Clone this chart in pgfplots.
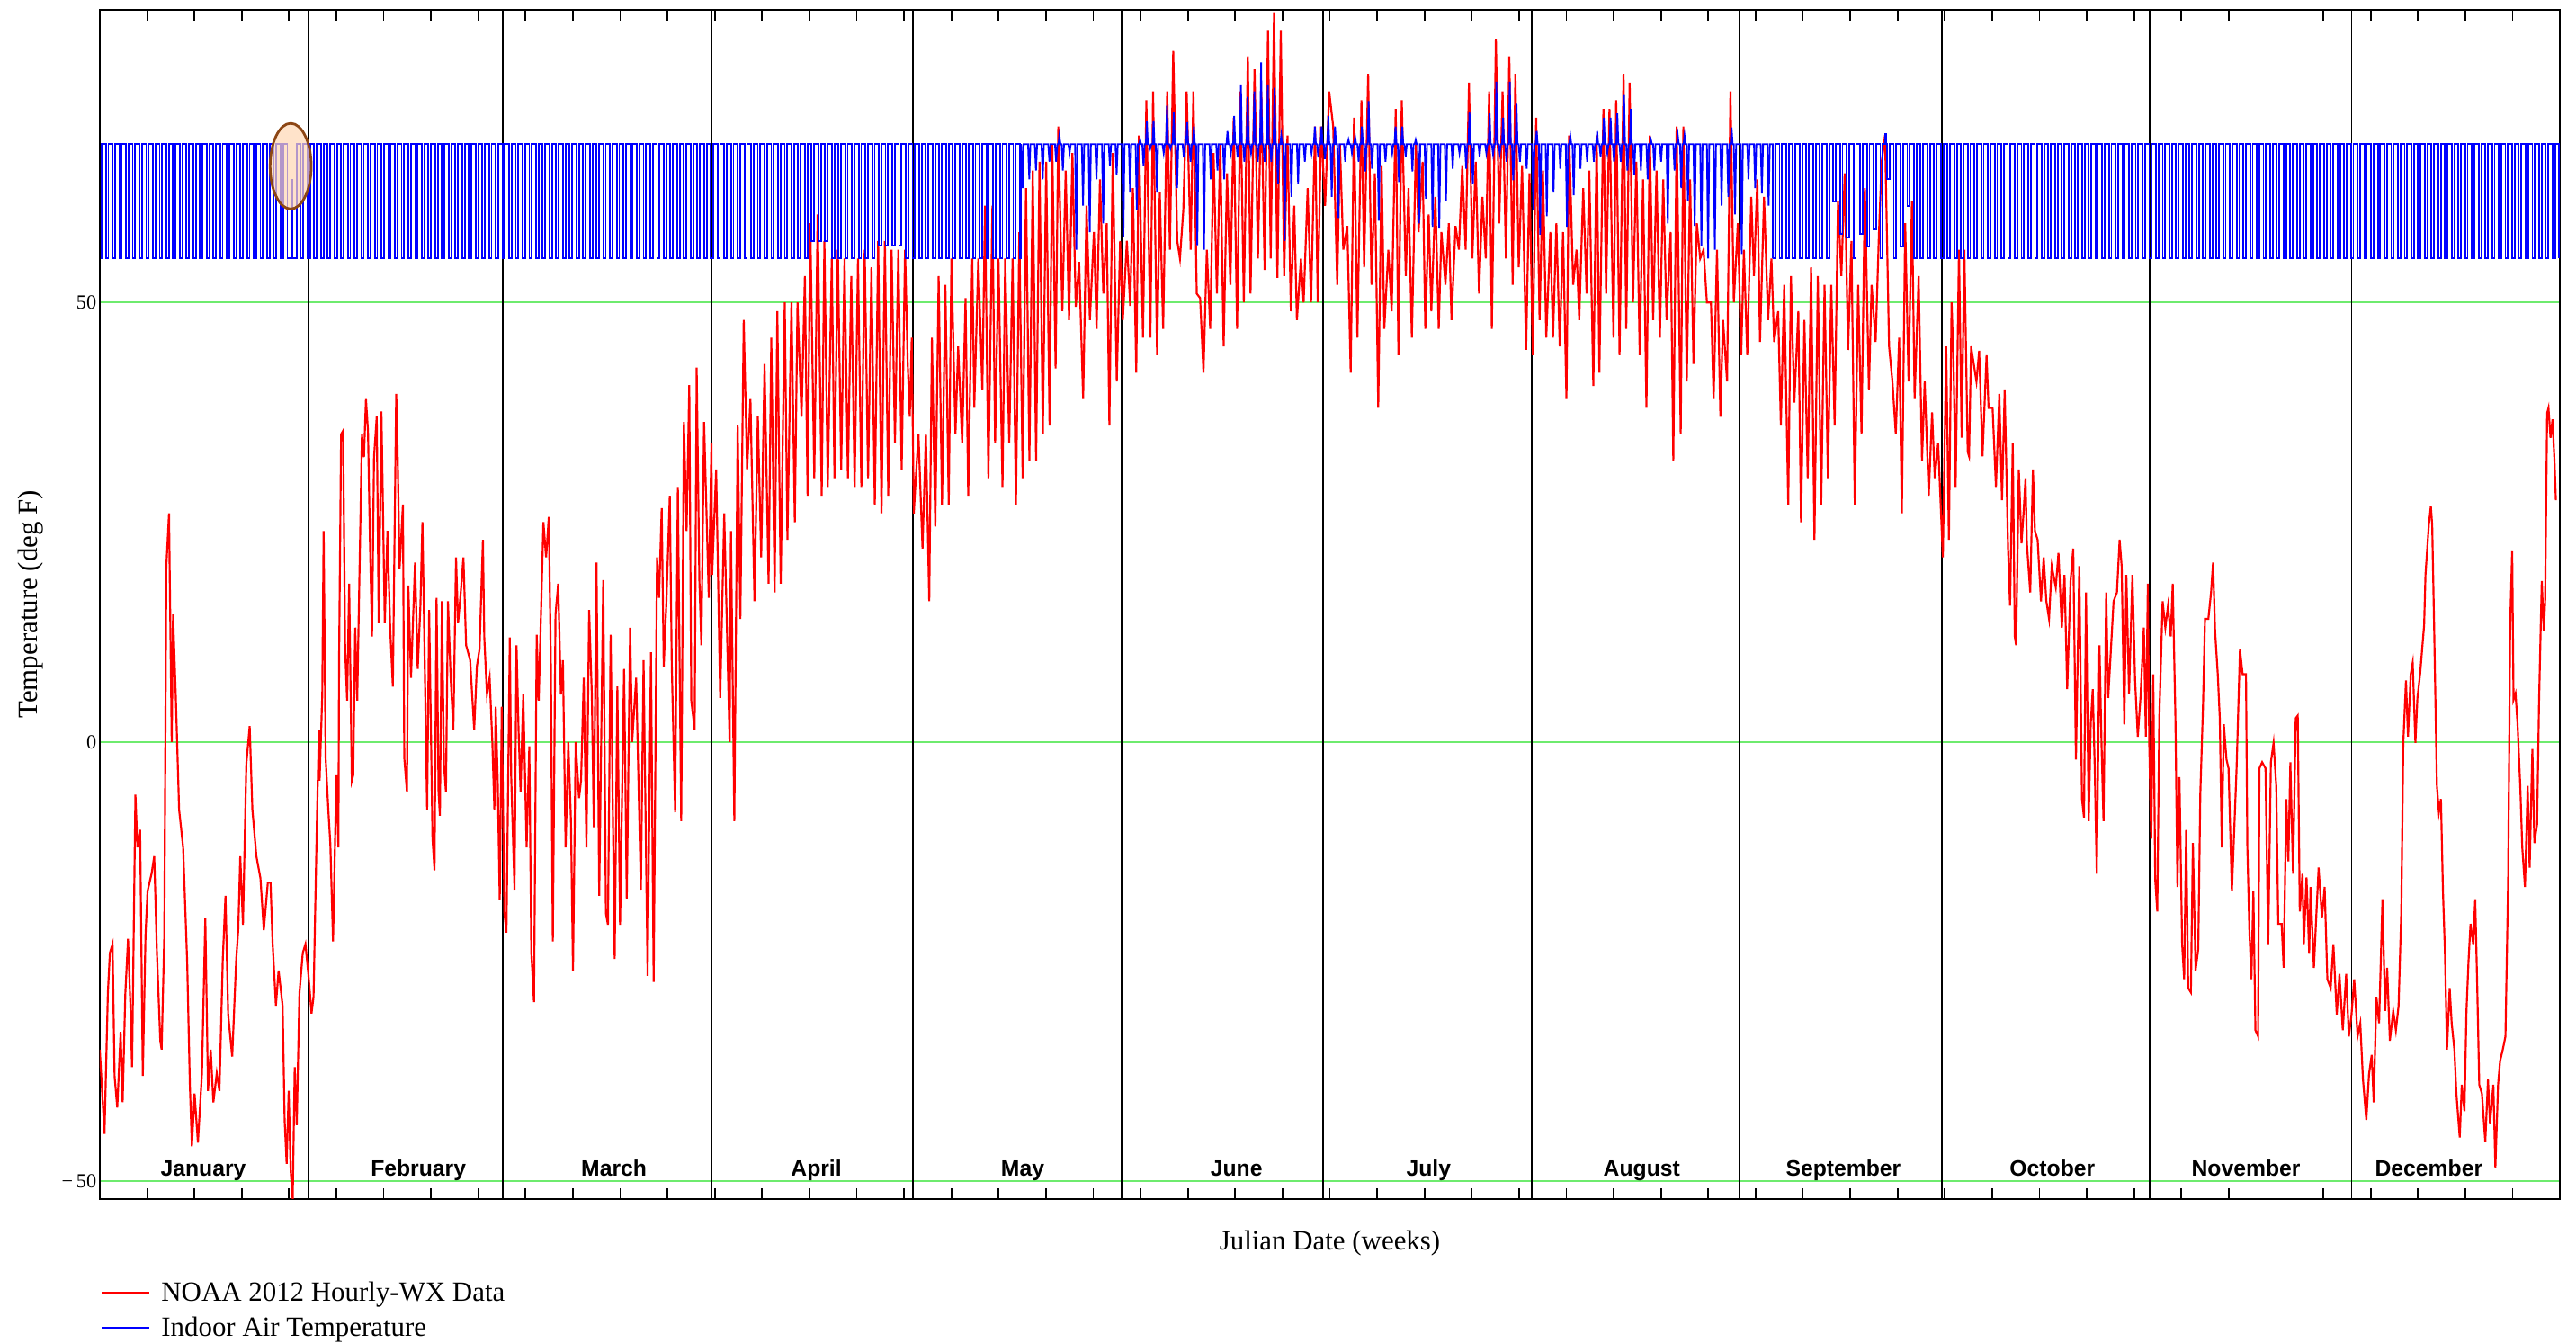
\documentclass[border=0pt]{standalone}
\usepackage{fontspec}
\setmainfont{Liberation Serif}
\newfontfamily\monthfont{Liberation Sans}
\usepackage{pgfplots}
\pgfplotsset{compat=1.18}
\definecolor{gridgreen}{RGB}{110,235,110}
\definecolor{peach}{RGB}{255,215,180}
\definecolor{ellbrown}{RGB}{140,70,20}
\begin{document}
\begin{tikzpicture}
\begin{axis}[
  scale only axis,
  width=885pt, height=427.8pt,
  xmin=0, xmax=366, ymin=-52, ymax=83.3,
  axis line style={line width=0.6pt},
  xtick={7.0385,14.0769,...,359},
  xticklabels={},
  tick align=inside,
  major tick length=4pt,
  xtick style={black,line width=0.6pt},
  ytick={-50,0,50},
  yticklabels={{−\,50},{0},{50}},
  ytick style={draw=none},
  yticklabel style={font=\fontsize{7.2}{8}\selectfont, inner sep=1pt},
  /pgf/number format/assume math mode=true,
  ymajorgrids,
  major grid style={gridgreen, line width=0.6pt},
  extra x ticks={31,60,91,121,152,182,213,244,274,305,335},
  extra x tick labels={},
  extra x tick style={xmajorgrids=true, major grid style={black,line width=0.6pt}, major tick length=0pt},
  xlabel={Julian Date (weeks)},
  ylabel={Temperature (deg F)},
  xlabel style={at={(axis description cs:0.5,-0.0372)}, anchor=center},
  ylabel style={at={(axis description cs:-0.0281,0.5)}, anchor=center},
  legend style={at={(axis description cs:0.0002,-0.0673)}, anchor=north west, draw=none, fill=none, inner sep=0pt, row sep=3pt, nodes={inner sep=0.8pt, text height=7pt, text depth=1pt}, /tikz/every odd column/.append style={column sep=3.2pt}},
  legend cell align=left,
]
\addplot[red, line width=0.7pt] coordinates {
(0,-35) (0.7,-44.6) (1.2,-28.6) (1.5,-24) (1.9,-23) (2.2,-38) (2.6,-41.6) (3.1,-33) (3.4,-41) (3.8,-28.6) (4.2,-22.4) (4.6,-31) (4.8,-37) (5.3,-6) (5.6,-12) (6.0,-10) (6.4,-38) (6.8,-22) (7.1,-17) (7.7,-15) (8.1,-13) (8.5,-24) (9.0,-34) (9.2,-35) (9.6,-22) (9.9,20) (10.3,26) (10.7,0) (10.9,14.5) (11.3,5.4) (11.8,-7.7) (12.4,-12) (13.0,-25) (13.4,-39) (13.7,-46) (14.1,-40) (14.6,-45.6) (15.2,-37.7) (15.7,-20) (16.1,-39.7) (16.5,-35) (16.9,-41) (17.4,-37.7) (17.8,-39.7) (18.3,-24.7) (18.7,-17.5) (19.1,-31) (19.7,-35.8) (20.3,-24.7) (20.6,-21.4) (20.9,-13) (21.3,-20.8) (21.8,-2.5) (22.3,1.8) (22.7,-7.7) (23.3,-13) (23.9,-15.5) (24.4,-21.4) (25.0,-16) (25.4,-16) (25.7,-22.7) (26.2,-30) (26.6,-26) (27.2,-30) (27.5,-43) (27.8,-48) (28.1,-39.7) (28.4,-48.8) (28.7,-52) (29.0,-37) (29.3,-43.6) (29.7,-28.6) (30.2,-24) (30.6,-23) (31.1,-27) (31.5,-30.9) (31.8,-29) (32.3,-9) (32.6,1.4) (32.7,-4.4) (33.1,5.4) (33.3,24) (33.6,-1.8) (34.0,-7.7) (34.3,-11.6) (34.7,-22.7) (35.2,-3.8) (35.5,-12) (35.6,9.3) (35.9,35) (36.2,35.4) (36.5,10.6) (36.8,4.7) (37.1,18) (37.5,-4.4) (37.7,-3.8) (38.0,13) (38.3,4.7) (38.7,22) (39.0,35) (39.3,32.4) (39.6,39) (39.9,35.4) (40.2,22.6) (40.5,12) (40.8,32.4) (41.2,37) (41.5,13.5) (41.9,37.6) (42.4,13.5) (42.8,24) (43.2,13) (43.6,6.3) (44.1,39.6) (44.3,33.4) (44.6,19.7) (45.1,27) (45.3,-1.8) (45.7,-5.7) (45.9,17.8) (46.3,7.3) (46.9,20.4) (47.3,8.3) (47.7,15.5) (48.0,25) (48.4,6.3) (48.7,-7.7) (49.0,15) (49.5,-11) (49.8,-14.6) (50.1,16.4) (50.4,-5.7) (50.6,-8.4) (50.9,16) (51.2,-2.5) (51.5,-5.7) (51.8,16) (52.2,7.3) (52.6,1.4) (53.0,21) (53.3,13.5) (53.7,17) (54.1,21) (54.5,11) (55.1,9.3) (55.7,1.4) (56.1,8.6) (56.5,10.6) (57.0,23) (57.2,11.9) (57.6,5.4) (58.0,7.3) (58.4,0) (58.7,-7.7) (58.9,4) (59.2,-4.4) (59.5,-18) (59.8,4) (60.2,-19.5) (60.5,-21.7) (61.0,11.9) (61.2,-3.8) (61.7,-16.8) (62.0,11) (62.3,1.4) (62.6,-5.7) (63.0,5.4) (63.5,-12) (63.9,-0.5) (64.2,-24) (64.6,-29.6) (65.0,12.2) (65.3,4.7) (65.5,10.6) (66.0,25) (66.4,21) (66.8,25.6) (67.1,9.3) (67.4,-22.7) (67.8,14.5) (68.2,18) (68.6,5.4) (68.9,9.3) (69.3,-12) (69.7,0) (70.1,-9) (70.4,-26) (70.8,0) (71.3,-6.4) (71.6,-4.4) (72.0,7.3) (72.4,-12) (72.8,15) (73.2,5.4) (73.5,-9.7) (73.9,20.4) (74.3,-17.5) (74.9,18.4) (75.3,-19.5) (75.6,-20.8) (76.0,12.2) (76.6,-24.7) (77.0,6.3) (77.4,-20.8) (78.0,8.3) (78.4,-17.8) (78.9,13) (79.2,0) (79.8,7.3) (80.5,-16.8) (80.9,9.3) (81.5,-26.6) (82.0,10.2) (82.4,-27.3) (82.9,21) (83.2,16.4) (83.6,26.6) (83.9,8.6) (84.3,16) (84.8,28) (85.1,8.6) (85.6,-8) (86.0,29) (86.5,-9) (86.9,36.4) (87.3,24) (87.7,40.6) (88.0,4.7) (88.5,1.4) (88.8,42.6) (89.2,18.4) (89.5,11) (89.9,36.4) (90.3,25) (90.6,16.4) (91.0,34)
(91.1,19) (91.7,31) (92.3,5) (92.9,26) (93.7,0) (93.9,24) (94.4,-9) (94.9,36) (95.3,14) (95.8,48) (96.3,31) (96.8,39) (97.4,16) (97.9,37) (98.4,21) (98.9,43) (99.5,18) (99.9,46) (100.4,17) (100.8,49) (101.3,18) (101.9,50) (102.3,23) (102.9,50) (103.4,25) (103.8,50) (104.4,37) (104.9,53) (105.3,28) (105.7,59) (106.3,30) (106.8,60) (107.4,28) (107.8,57) (108.3,29) (108.9,55) (109.3,30) (109.8,56) (110.3,31) (110.8,55) (111.3,30) (111.8,53) (112.3,29) (112.8,55) (113.3,29) (113.8,56) (114.3,30) (114.8,54) (115.3,27) (115.8,57) (116.3,26) (116.8,57) (117.3,28) (117.8,56) (118.3,34) (118.8,56) (119.3,31) (119.8,56) (120.2,43) (120.5,37) (120.8,46) (121.1,26) (121.4,30) (121.8,35) (122.4,22) (122.9,35) (123.4,16) (123.8,46) (124.3,24.5) (124.8,53) (125.3,27) (125.8,52) (126.3,27) (126.7,55) (127.3,35) (127.7,45) (128.3,34) (128.8,50.5) (129.2,28) (129.8,55) (130.1,38) (130.7,55) (131.3,40) (131.7,61) (132.2,30) (132.8,61) (133.2,34) (133.7,55) (134.3,29) (134.7,55) (135.3,34) (135.8,55) (136.3,27) (136.8,58) (137.3,30) (137.8,63) (138.3,32) (138.8,65) (139.3,32) (139.8,66) (140.3,35) (140.8,66) (141.3,36) (141.7,68) (142.2,42.5) (142.6,70) (143.2,49) (143.7,65) (144.2,48) (144.7,67) (145.2,49.5) (145.7,54.6) (146.3,39) (146.8,61) (147.3,48) (147.9,58) (148.3,47) (148.8,64) (149.3,51) (149.8,59) (150.2,36) (150.7,67) (151.3,41) (151.8,57) (152.2,48) (152.8,57) (153.3,49.6) (153.7,63) (154.2,42) (154.6,69) (155.2,46) (155.7,73) (156.3,46) (156.7,74) (157.3,44) (157.7,62.6) (158.2,47) (158.8,74) (159.2,56) (159.7,78.6) (160.3,57) (160.7,55) (161.2,60.5) (161.7,74) (162.3,56) (162.7,74) (163.2,51) (163.7,50.5) (164.2,42) (164.7,56) (165.2,47) (165.7,67) (166.2,51) (166.7,68) (167.2,45) (167.7,64.7) (168.2,52) (168.7,71) (169.2,47) (169.7,74) (170.2,50) (170.8,78) (171.2,51) (171.8,76.5) (172.3,55) (172.8,74) (173.3,53.7) (173.8,81) (174.2,55) (174.7,83) (175.2,52.8) (175.7,81) (176.2,53) (176.7,69) (177.2,49) (177.7,61) (178.1,48) (178.7,55) (179.1,50) (179.7,63) (180.2,50) (180.8,70) (181.2,50) (181.7,70) (182.3,61) (182.9,74)
(183.5,70) (184.1,52) (184.5,68) (185.0,56) (185.6,58.7) (186.1,42) (186.6,71) (187.1,46) (187.7,73) (188.1,54) (188.7,76) (189.2,52) (189.7,64.7) (190.2,38) (190.7,65.6) (191.1,47) (191.7,56) (192.2,49) (192.8,72) (193.2,44) (193.7,73) (194.3,53) (194.7,63) (195.2,46) (195.8,68) (196.2,58) (196.8,66) (197.2,47) (197.7,60) (198.1,49) (198.7,62) (199.2,47) (199.6,58) (200.2,52) (200.7,59) (201.1,48) (201.7,58.7) (202.2,56) (202.7,65.6) (203.2,56) (203.7,75) (204.2,55) (204.7,66) (205.2,51) (205.7,62) (206.2,55) (206.7,74) (207.1,47) (207.7,80) (208.2,59) (208.7,74) (209.2,55) (209.7,78) (210.2,52) (210.6,76) (211.1,54) (211.6,65.6) (212.2,44.6) (212.7,64.7) (213.2,44) (213.7,71) (214.2,48) (214.7,65) (215.2,46) (215.8,58) (216.2,46) (216.7,59) (217.2,45) (217.7,58) (218.2,39) (218.6,69) (219.2,52) (219.7,56) (220.1,48) (220.7,63) (221.2,51) (221.6,65) (222.2,40.5) (222.7,69) (223.1,42) (223.7,72) (224.1,51) (224.6,72) (225.2,46) (225.6,73) (226.1,44) (226.7,76) (227.1,47) (227.6,75) (228.1,50) (228.6,66) (229.1,44) (229.6,64) (230.1,38) (230.6,69) (231.1,48) (231.6,65) (232.1,46) (232.6,64) (233.1,48) (233.7,58) (234.1,32) (234.6,70) (235.2,35) (235.6,70) (236.1,41) (236.6,64) (237.1,43) (237.6,59) (238.1,55) (238.6,56) (239.1,50) (239.7,50) (240.1,39) (240.6,56) (241.1,37) (241.5,48) (242.1,41) (242.6,74) (243.1,50) (243.7,59) (244.2,44) (244.6,56) (245.1,44) (245.7,62) (246.1,53) (246.6,64) (247.0,45.5) (247.6,62) (248.2,48) (248.7,55) (249.1,45.5) (249.7,49) (250.1,36) (250.6,52) (251.2,27) (251.6,53) (252.1,38.6) (252.7,49) (253.1,25) (253.6,48) (254.1,30) (254.6,54) (255.1,23) (255.6,53) (256.1,27) (256.6,52) (257.1,30) (257.6,52) (258.1,36) (258.6,61.5) (259.1,53) (259.6,64.7) (260.1,44.6) (260.6,57) (261.1,27) (261.6,52) (262.1,35) (262.6,63) (263.2,40) (263.6,52) (264.2,45.5) (264.7,58) (265.1,66) (265.6,69) (266.2,45) (266.7,41) (267.2,35) (267.7,46) (268.1,26) (268.6,59) (269.1,41) (269.6,61.5) (270.0,39) (270.6,53) (271.1,32) (271.5,41) (272.1,28) (272.6,37.5) (273.0,30) (273.5,34)
(274.2,21) (274.7,45) (275.1,23) (275.5,50) (275.8,43) (276.1,29) (276.6,56) (277.0,34.6) (277.4,56) (277.9,33) (278.1,32.5) (278.4,45) (278.8,43) (279.2,41) (279.6,44.5) (280.1,32.5) (280.7,44) (281.0,38) (281.6,38) (282.1,29) (282.6,39.6) (283.0,27.5) (283.4,40) (283.9,22) (284.2,15.5) (284.6,34) (284.9,12) (285.1,11) (285.5,31) (285.9,22.6) (286.2,26) (286.5,30) (286.7,22.6) (287.2,17) (287.6,31) (287.9,24) (288.3,23) (288.8,16) (289.2,21) (289.6,16) (290.0,14) (290.4,20) (291.0,17.6) (291.4,21.5) (291.9,13) (292.3,19) (292.7,6) (293.2,18.3) (293.6,22) (294.0,-2) (294.5,20) (294.9,-6.5) (295.2,-8.6) (295.5,17) (295.9,-9) (296.2,2) (296.5,6) (296.8,-3) (297.1,-15) (297.5,11) (297.8,0) (298.1,-9) (298.5,17) (298.8,5) (299.2,10.5) (299.6,16) (300.1,17) (300.5,23) (300.8,20) (301.2,2) (301.5,19) (301.9,5.5) (302.4,19) (302.8,7) (303.2,0.6) (303.6,5) (304.1,13) (304.4,0.6) (304.7,18) (304.9,-0.1) (305.2,-11) (305.5,7.7) (305.8,-15.7) (306.1,-19.3) (306.4,2.7) (306.9,16) (307.3,13) (307.7,15.5) (308.1,12) (308.4,18) (308.8,2.7) (309.1,-16.5) (309.4,-4) (309.8,-23) (310.1,-27) (310.4,-10) (310.7,-28) (311.1,-28.5) (311.4,-11.5) (311.8,-26) (312.2,-23.5) (312.5,-6) (312.9,4) (313.2,14) (313.7,14) (314.1,17) (314.4,20.4) (314.7,12.6) (315.1,7.7) (315.4,2.7) (315.7,-12) (316.0,2) (316.4,-2) (316.7,-3) (317.2,-17) (317.6,-9) (317.9,-3) (318.4,10.5) (318.8,7.7) (319.3,7.7) (319.5,-12) (319.8,-21.4) (320.1,-27) (320.4,-17) (320.7,-32.8) (321.1,-33.5) (321.3,-3) (321.7,-2.3) (322.2,-3) (322.6,-23) (323.0,-2.3) (323.4,-0.1) (323.8,-5) (324.1,-20.7) (324.6,-20.7) (324.9,-25.7) (325.3,-6.5) (325.6,-13.6) (325.9,-2.3) (326.3,-15) (326.7,2.7) (327.0,3) (327.3,-19.3) (327.7,-15) (327.9,-23) (328.3,-15.4) (328.7,-24) (328.9,-16.5) (329.4,-25.7) (329.7,-20.7) (330.1,-14.3) (330.6,-20) (331.0,-16.5) (331.4,-27) (331.9,-28) (332.3,-23) (332.8,-31) (333.2,-26.4) (333.7,-32.8) (334.2,-26.4) (334.6,-33.5) (335.0,-31) (335.4,-27) (335.9,-33.5) (336.3,-32) (336.7,-38.4) (337.2,-43) (337.6,-37.8) (338.0,-35.6) (338.3,-41) (338.7,-29) (339.1,-32) (339.6,-17.9) (340.0,-30.6) (340.3,-25.7) (340.7,-34) (341.2,-30.6) (341.6,-32.8) (342.0,-30) (342.4,-19.3) (342.7,-0.1) (343.1,7) (343.4,0.6) (343.8,7.7) (344.1,9) (344.5,-0.1) (344.8,5) (345.2,7.7) (345.5,10.5) (345.8,13.3) (346.0,19) (346.5,24.7) (346.8,26.8) (347.0,24.7) (347.3,12.6) (347.7,-5) (348.0,-8) (348.3,-6.5) (348.6,-17) (348.9,-24) (349.2,-35) (349.6,-28) (349.9,-32) (350.3,-35) (350.6,-40) (351.1,-45) (351.4,-39) (351.8,-42) (352.1,-30.6) (352.4,-25) (352.7,-20.7) (353.1,-23) (353.4,-17.9) (353.7,-27.8) (354.0,-39) (354.4,-40) (354.9,-45.5) (355.3,-38.4) (355.6,-43.4) (356.1,-39) (356.4,-48.4) (356.8,-39) (357.1,-36.3) (357.5,-35) (357.9,-33.5) (358.3,-15.7) (358.6,13.3) (358.9,21.8) (359.1,4.8) (359.4,5.5) (359.7,2) (360.1,-5) (360.4,-12) (360.8,-16.5) (361.2,-5) (361.5,-14.3) (361.9,-0.8) (362.2,-11.5) (362.6,-9.4) (362.9,4.8) (363.3,18.3) (363.6,12.6) (363.8,16) (364.1,37.4) (364.3,38) (364.6,34.6) (364.9,36.7) (365.2,31.8) (365.4,27.5)
};
\addlegendentry{NOAA 2012 Hourly-WX Data}
% Indoor air temperature, part A (square setback cycle)
\addplot[blue, line width=0.6pt, const plot, forget plot] coordinates {
(0.2,55)
(0.28,68)(0.9,55)(1.28,68)(1.9,55)(2.28,68)(2.9,55)(3.28,68)(3.9,55)(4.28,68)(4.9,55)(5.28,68)(5.9,55)(6.28,68)(6.9,55)(7.28,68)(7.9,55)(8.28,68)(8.9,55)(9.28,68)(9.9,55)
(10.28,68)(10.9,55)(11.28,68)(11.9,55)(12.28,68)(12.9,55)(13.28,68)(13.9,55)(14.28,68)(14.9,55)(15.28,68)(15.9,55)(16.28,68)(16.9,55)(17.28,68)(17.9,55)(18.28,68)(18.9,55)(19.28,68)(19.9,55)
(20.28,68)(20.9,55)(21.28,68)(21.9,55)(22.28,68)(22.9,55)(23.28,68)(23.9,55)(24.28,68)(24.9,55)(25.28,68)(25.9,55)(26.28,68)(26.9,55)(27.28,68)(27.9,55)(28.45,63.9)(28.6,55)(29.28,68)(29.9,55)
(30.28,68)(30.9,55)(31.28,68)(31.9,55)(32.28,68)(32.9,55)(33.28,68)(33.9,55)(34.28,68)(34.9,55)(35.28,68)(35.9,55)(36.28,68)(36.9,55)(37.28,68)(37.9,55)(38.28,68)(38.9,55)(39.28,68)(39.9,55)
(40.28,68)(40.9,55)(41.28,68)(41.9,55)(42.28,68)(42.9,55)(43.28,68)(43.9,55)(44.28,68)(44.9,55)(45.28,68)(45.9,55)(46.28,68)(46.9,55)(47.28,68)(47.9,55)(48.28,68)(48.9,55)(49.28,68)(49.9,55)
(50.28,68)(50.9,55)(51.28,68)(51.9,55)(52.28,68)(52.9,55)(53.28,68)(53.9,55)(54.28,68)(54.9,55)(55.28,68)(55.9,55)(56.28,68)(56.9,55)(57.28,68)(57.9,55)(58.28,68)(58.9,55)(59.28,68)(59.9,55)
(60.28,68)(60.9,55)(61.28,68)(61.9,55)(62.28,68)(62.9,55)(63.28,68)(63.9,55)(64.28,68)(64.9,55)(65.28,68)(65.9,55)(66.28,68)(66.9,55)(67.28,68)(67.9,55)(68.28,68)(68.9,55)(69.28,68)(69.9,55)
(70.28,68)(70.9,55)(71.28,68)(71.9,55)(72.28,68)(72.9,55)(73.28,68)(73.9,55)(74.28,68)(74.9,55)(75.28,68)(75.9,55)(76.28,68)(76.9,55)(77.28,68)(77.9,55)(78.28,68)(78.9,55)(79.28,68)(79.9,55)
(80.28,68)(80.9,55)(81.28,68)(81.9,55)(82.28,68)(82.9,55)(83.28,68)(83.9,55)(84.28,68)(84.9,55)(85.28,68)(85.9,55)(86.28,68)(86.9,55)(87.28,68)(87.9,55)(88.28,68)(88.9,55)(89.28,68)(89.9,55)
(90.28,68)(90.9,55)(91.28,68)(91.9,55)(92.28,68)(92.9,55)(93.28,68)(93.9,55)(94.28,68)(94.9,55)(95.28,68)(95.9,55)(96.28,68)(96.9,55)(97.28,68)(97.9,55)(98.28,68)(98.9,55)(99.28,68)(99.9,55)
(100.28,68)(100.9,55)(101.28,68)(101.9,55)(102.28,68)(102.9,55)(103.28,68)(103.9,55)(104.28,68)(104.9,55)(105.28,68)(105.9,57)(106.28,68)(106.9,57)(107.28,68)(107.9,57)(108.28,68)(108.9,55)(109.28,68)(109.9,55)
(110.28,68)(110.9,55)(111.28,68)(111.9,55)(112.28,68)(112.9,55)(113.28,68)(113.9,55)(114.28,68)(114.9,55)(115.28,68)(115.9,56.5)(116.28,68)(116.9,56.5)(117.28,68)(117.9,56.5)(118.28,68)(118.9,56.5)(119.28,68)(119.9,55)
(120.28,68)(120.9,55)(121.28,68)(121.9,55)(122.28,68)(122.9,55)(123.28,68)(123.9,55)(124.28,68)(124.9,55)(125.28,68)(125.9,55)(126.28,68)(126.9,55)(127.28,68)(127.9,55)(128.28,68)(128.9,55)(129.28,68)(129.9,55)
(130.28,68)(130.9,55)(131.28,68)(131.9,55)(132.28,68)(132.9,55)(133.28,68)(133.9,55)(134.28,68)(134.9,55)(135.28,68)(135.9,55)(136.28,68)(136.9,55)(137.1,68)
};
% part B (summer, free-floating)
\addplot[blue, line width=0.6pt, forget plot] coordinates {
(137.1,68)(137.28,63)(137.45,68)
(138.1,68)(138.28,64)(138.45,68)
(139.1,68)(139.28,65)(139.45,68)
(140.1,68)(140.28,64)(140.45,68)
(141.1,68)(141.28,66)(141.45,68)
(142.1,68)(142.28,66)(142.45,68)(142.62,68)(142.77,69)(142.92,68)
(143.1,68)(143.28,65)(143.45,68)
(144.1,68)(144.28,67)(144.45,68)
(145.1,68)(145.28,56)(145.45,68)
(146.1,68)(146.28,61)(146.45,68)
(147.1,68)(147.28,58)(147.45,68)
(148.1,68)(148.28,64)(148.45,68)
(149.1,68)(149.28,59)(149.45,68)
(150.1,68)(150.28,65.5)(150.45,68)
(151.1,68)(151.28,64.5)(151.45,68)
(152.1,68)(152.28,57.5)(152.45,68)
(153.1,68)(153.28,62.5)(153.45,68)
(154.1,68)(154.28,60.5)(154.45,68)(154.62,68)(154.77,68.5)(154.92,68)
(155.1,68)(155.28,65.5)(155.45,68)(155.62,68)(155.77,70.6)(155.92,68)
(156.1,68)(156.28,67.5)(156.45,68)(156.62,68)(156.77,70.7)(156.92,68)
(157.1,68)(157.28,62.5)(157.45,68)
(158.1,68)(158.28,67)(158.45,68)(158.62,68)(158.77,72.4)(158.92,68)
(159.1,68)(159.28,67.5)(159.45,68)(159.62,68)(159.77,71.7)(159.92,68)
(160.1,68)(160.28,63)(160.45,68)
(161.1,68)(161.28,66.5)(161.45,68)(161.62,68)(161.77,70.5)(161.92,68)
(162.1,68)(162.28,66)(162.45,68)(162.62,68)(162.77,70)(162.92,68)
(163.1,68)(163.28,56.5)(163.45,68)
(164.1,68)(164.28,56)(164.45,68)
(165.1,68)(165.28,64)(165.45,68)
(166.1,68)(166.28,65)(166.45,68)
(167.1,68)(167.28,64)(167.45,68)(167.62,68)(167.77,69.5)(167.92,68)
(168.1,68)(168.28,67)(168.45,68)(168.62,68)(168.77,71.2)(168.92,68)
(169.1,68)(169.28,66.5)(169.45,68)(169.62,68)(169.77,74.8)(169.92,68)
(170.1,68)(170.28,66)(170.45,68)(170.62,68)(170.77,73.4)(170.92,68)
(171.1,68)(171.28,67)(171.45,68)(171.62,68)(171.77,74)(171.92,68)
(172.1,68)(172.28,66)(172.45,68)(172.62,68)(172.77,77.3)(172.92,68)
(173.1,68)(173.28,66)(173.45,68)(173.62,68)(173.77,74.8)(173.92,68)
(174.1,68)(174.28,66)(174.45,68)(174.62,68)(174.77,74.4)(174.92,68)
(175.1,68)(175.28,63.5)(175.45,68)(175.62,68)(175.77,69)(175.92,68)
(176.1,68)(176.28,57)(176.45,68)
(177.1,68)(177.28,62)(177.45,68)
(178.1,68)(178.28,63.5)(178.45,68)
(179.1,68)(179.28,66)(179.45,68)
(180.1,68)(180.28,67)(180.45,68)(180.62,68)(180.77,70)(180.92,68)
(181.1,68)(181.28,66.5)(181.45,68)(181.62,68)(181.77,70)(181.92,68)
(182.1,68)(182.28,66.3)(182.45,68)(182.62,68)(182.77,71.2)(182.92,68)
(183.1,68)(183.28,62)(183.45,68)(183.62,68)(183.77,70)(183.92,68)
(184.1,68)(184.28,59.6)(184.45,68)
(185.1,68)(185.28,66)(185.45,68)(185.62,68)(185.77,68.5)(185.92,68)
(186.1,68)(186.28,67)(186.45,68)(186.62,68)(186.77,68.8)(186.92,68)
(187.1,68)(187.28,66)(187.45,68)(187.62,68)(187.77,70)(187.92,68)
(188.1,68)(188.28,64.9)(188.45,68)(188.62,68)(188.77,72.9)(188.92,68)
(189.1,68)(189.28,65.2)(189.45,68)
(190.1,68)(190.28,59.3)(190.45,68)
(191.1,68)(191.28,66)(191.45,68)
(192.1,68)(192.28,67)(192.45,68)(192.62,68)(192.77,70)(192.92,68)
(193.1,68)(193.28,63.7)(193.45,68)(193.62,68)(193.77,70)(193.92,68)
(194.1,68)(194.28,66.6)(194.45,68)
(195.1,68)(195.28,64.9)(195.45,68)(195.62,68)(195.77,68.5)(195.92,68)
(196.1,68)(196.28,59)(196.45,68)
(197.1,68)(197.28,61.8)(197.45,68)
(198.1,68)(198.28,58.6)(198.45,68)
(199.1,68)(199.28,58.4)(199.45,68)
(200.1,68)(200.28,61.5)(200.45,68)
(201.1,68)(201.28,65.2)(201.45,68)
(202.1,68)(202.28,67)(202.45,68)
(203.1,68)(203.28,65.2)(203.45,68)(203.62,68)(203.77,71.7)(203.92,68)
(204.1,68)(204.28,63.5)(204.45,68)
(205.1,68)(205.28,66.6)(205.45,68)
(206.1,68)(206.28,67)(206.45,68)(206.62,68)(206.77,71.5)(206.92,68)
(207.1,68)(207.28,66.9)(207.45,68)(207.62,68)(207.77,75.1)(207.92,68)
(208.1,68)(208.28,67)(208.45,68)(208.62,68)(208.77,71)(208.92,68)
(209.1,68)(209.28,66)(209.45,68)(209.62,68)(209.77,75.1)(209.92,68)
(210.1,68)(210.28,63.9)(210.45,68)(210.62,68)(210.77,72.6)(210.92,68)
(211.1,68)(211.28,66)(211.45,68)
(212.1,68)(212.28,65.2)(212.45,68)
(213.1,68)(213.28,60.5)(213.45,68)(213.62,68)(213.77,69.5)(213.92,68)
(214.1,68)(214.28,57.7)(214.45,68)
(215.1,68)(215.28,59.8)(215.45,68)
(216.1,68)(216.28,62.5)(216.45,68)
(217.1,68)(217.28,65.2)(217.45,68)
(218.1,68)(218.28,58.6)(218.45,68)(218.62,68)(218.77,69)(218.92,68)
(219.1,68)(219.28,62.2)(219.45,68)
(220.1,68)(220.28,65.2)(220.45,68)
(221.1,68)(221.28,66)(221.45,68)
(222.1,68)(222.28,66)(222.45,68)(222.62,68)(222.77,69.5)(222.92,68)
(223.1,68)(223.28,66.6)(223.45,68)(223.62,68)(223.77,71)(223.92,68)
(224.1,68)(224.28,67)(224.45,68)(224.62,68)(224.77,71)(224.92,68)
(225.1,68)(225.28,66)(225.45,68)(225.62,68)(225.77,71.5)(225.92,68)
(226.1,68)(226.28,66)(226.45,68)(226.62,68)(226.77,73.6)(226.92,68)
(227.1,68)(227.28,65)(227.45,68)(227.62,68)(227.77,72)(227.92,68)
(228.1,68)(228.28,64.5)(228.45,68)
(229.1,68)(229.28,65)(229.45,68)
(230.1,68)(230.28,64)(230.45,68)(230.62,68)(230.77,68.5)(230.92,68)
(231.1,68)(231.28,65)(231.45,68)
(232.1,68)(232.28,66)(232.45,68)
(233.1,68)(233.28,59)(233.45,68)
(234.1,68)(234.28,65)(234.45,68)(234.62,68)(234.77,69)(234.92,68)
(235.1,68)(235.28,63)(235.45,68)(235.62,68)(235.77,69)(235.92,68)
(236.1,68)(236.28,61.5)(236.45,68)
(237.1,68)(237.28,58.7)(237.45,68)
(238.1,68)(238.28,56.4)(238.45,68)
(239.1,68)(239.28,55)(239.45,68)
(240.1,68)(240.28,56)(240.45,68)
(241.1,68)(241.28,61)(241.45,68)
(242.1,68)(242.28,62)(242.45,68)(242.62,68)(242.77,69.9)(242.92,68)
(243.1,68)(243.28,60)(243.45,68)
(244.1,68)(244.28,55.5)(244.45,68)
(245.1,68)(245.28,64)(245.45,68)
(246.1,68)(246.28,63)(246.45,68)
(247.1,68)(247.28,62.4)(247.45,68)
(248.1,68)(248.28,61)(248.45,68)(248.92,68)(248.92,55)
};
% part C (square setback cycle)
\addplot[blue, line width=0.6pt, const plot, forget plot] coordinates {
(248.92,55)(249.28,68)(249.9,55)
(250.28,68)(250.9,55)(251.28,68)(251.9,55)(252.28,68)(252.9,55)(253.28,68)(253.9,55)(254.28,68)(254.9,55)(255.28,68)(255.9,55)(256.28,68)(256.9,55)(257.28,68)(257.9,61.5)(258.28,68)(258.9,57.8)(259.28,68)(259.9,57.4)
(260.28,68)(260.9,55)(261.28,68)(261.9,57.8)(262.28,68)(262.9,56.4)(263.28,68)(263.9,58.3)(264.28,68)(264.9,55)(265.28,68)(265.6,69.2)(265.75,68)(265.9,64)(266.28,68)(266.9,55)(267.28,68)(267.9,56.4)(268.28,68)(268.9,61)(269.28,68)(269.9,55)
(270.28,68)(270.9,55)(271.28,68)(271.9,55)(272.28,68)(272.9,55)(273.28,68)(273.9,55)(274.28,68)(274.9,55)(275.28,68)(275.9,55)(276.28,68)(276.9,55)(277.28,68)(277.9,55)(278.28,68)(278.9,55)(279.28,68)(279.9,55)
(280.28,68)(280.9,55)(281.28,68)(281.9,55)(282.28,68)(282.9,55)(283.28,68)(283.9,55)(284.28,68)(284.9,55)(285.28,68)(285.9,55)(286.28,68)(286.9,55)(287.28,68)(287.9,55)(288.28,68)(288.9,55)(289.28,68)(289.9,55)
(290.28,68)(290.9,55)(291.28,68)(291.9,55)(292.28,68)(292.9,55)(293.28,68)(293.9,55)(294.28,68)(294.9,55)(295.28,68)(295.9,55)(296.28,68)(296.9,55)(297.28,68)(297.9,55)(298.28,68)(298.9,55)(299.28,68)(299.9,55)
(300.28,68)(300.9,55)(301.28,68)(301.9,55)(302.28,68)(302.9,55)(303.28,68)(303.9,55)(304.28,68)(304.9,55)(305.28,68)(305.9,55)(306.28,68)(306.9,55)(307.28,68)(307.9,55)(308.28,68)(308.9,55)(309.28,68)(309.9,55)
(310.28,68)(310.9,55)(311.28,68)(311.9,55)(312.28,68)(312.9,55)(313.28,68)(313.9,55)(314.28,68)(314.9,55)(315.28,68)(315.9,55)(316.28,68)(316.9,55)(317.28,68)(317.9,55)(318.28,68)(318.9,55)(319.28,68)(319.9,55)
(320.28,68)(320.9,55)(321.28,68)(321.9,55)(322.28,68)(322.9,55)(323.28,68)(323.9,55)(324.28,68)(324.9,55)(325.28,68)(325.9,55)(326.28,68)(326.9,55)(327.28,68)(327.9,55)(328.28,68)(328.9,55)(329.28,68)(329.9,55)
(330.28,68)(330.9,55)(331.28,68)(331.9,55)(332.28,68)(332.9,55)(333.28,68)(333.9,55)(334.28,68)(334.9,55)(335.28,68)(335.9,55)(336.28,68)(336.9,55)(337.28,68)(337.9,55)(338.28,68)(338.9,55)(339.28,68)(339.9,55)
(340.28,68)(340.9,55)(341.28,68)(341.9,55)(342.28,68)(342.9,55)(343.28,68)(343.9,55)(344.28,68)(344.9,55)(345.28,68)(345.9,55)(346.28,68)(346.9,55)(347.28,68)(347.9,55)(348.28,68)(348.9,55)(349.28,68)(349.9,55)
(350.28,68)(350.9,55)(351.28,68)(351.9,55)(352.28,68)(352.9,55)(353.28,68)(353.9,55)(354.28,68)(354.9,55)(355.28,68)(355.9,55)(356.28,68)(356.9,55)(357.28,68)(357.9,55)(358.28,68)(358.9,55)(359.28,68)(359.9,55)
(360.28,68)(360.9,55)(361.28,68)(361.9,55)(362.28,68)(362.9,55)(363.28,68)(363.9,55)(364.28,68)(364.9,55)(365.28,68)(365.9,55)
};
\addlegendimage{blue, line width=0.6pt}
\addlegendentry{Indoor Air Temperature}
\draw[draw=ellbrown, line width=0.9pt, fill=peach, fill opacity=0.7] (axis cs:28.4,65.5) ellipse [x radius=7.4pt, y radius=15.4pt];
\begin{scope}[every node/.style={font=\monthfont\bfseries\fontsize{8}{9.6}\selectfont, anchor=base, inner sep=0pt}]
\node at (axis cs:15.4,-49.4) {January};
\node at (axis cs:47.4,-49.4) {February};
\node at (axis cs:76.5,-49.4) {March};
\node at (axis cs:106.6,-49.4) {April};
\node at (axis cs:137.3,-49.4) {May};
\node at (axis cs:169.1,-49.4) {June};
\node at (axis cs:197.7,-49.4) {July};
\node at (axis cs:229.4,-49.4) {August};
\node at (axis cs:259.4,-49.4) {September};
\node at (axis cs:290.5,-49.4) {October};
\node at (axis cs:319.3,-49.4) {November};
\node at (axis cs:346.5,-49.4) {December};
\end{scope}
\end{axis}
\path (current axis.south west) ++(-35.9pt,-51.5pt) rectangle ++(926.7pt,482.8pt);
\end{tikzpicture}
\end{document}
